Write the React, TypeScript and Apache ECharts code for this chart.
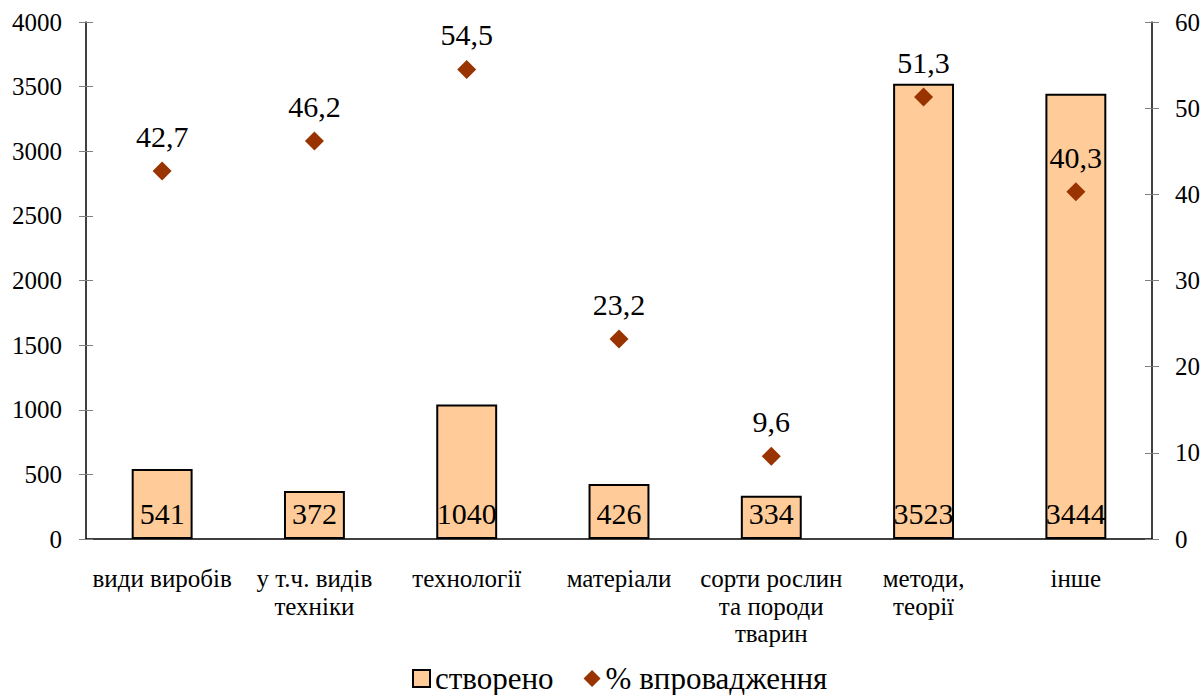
import React, { useEffect, useRef } from "react";
import * as echarts from "echarts";

const categories = [
  "види виробів",
  "у т.ч. видів\nтехніки",
  "технології",
  "матеріали",
  "сорти рослин\nта породи\nтварин",
  "методи,\nтеорії",
  "інше",
];
const created = [541, 372, 1040, 426, 334, 3523, 3444];
const implementedPct = [42.7, 46.2, 54.5, 23.2, 9.6, 51.3, 40.3];
const seriesNames = ["створено", "% впровадження"];

const FONT = "'Liberation Serif', 'Times New Roman', serif";

export default function App() {
  const ref = useRef<HTMLDivElement>(null);
  useEffect(() => {
    const chart = echarts.init(ref.current!, undefined, { renderer: "svg" });
    const axisText = { fontFamily: FONT, fontSize: 25, color: "#000" };
    const tickStyle = { color: "#808080", width: 1 };
    chart.setOption({
      animation: false,
      textStyle: { fontFamily: FONT, color: "#000" },
      grid: { left: 86, right: 52, top: 22, bottom: 156, containLabel: false },
      legend: {
        top: 663,
        left: 412,
        padding: 0,
        itemWidth: 17,
        itemHeight: 17,
        itemGap: 30,
        textStyle: { fontFamily: FONT, fontSize: 31, color: "#000" },
        data: [
          { name: seriesNames[0], icon: "rect" },
          { name: seriesNames[1], icon: "diamond" },
        ],
      },
      xAxis: [
        {
          type: "category",
          data: categories,
          axisLine: { lineStyle: { color: "#000", width: 1.5 } },
          axisTick: { length: 7, lineStyle: tickStyle },
          axisLabel: { ...axisText, fontSize: 25, margin: 26, lineHeight: 27.5, interval: 0 },
        },
        {
          type: "category",
          data: categories,
          position: "bottom",
          axisLine: { show: false },
          axisTick: { inside: true, length: 7, lineStyle: tickStyle },
          axisLabel: { show: false },
        },
      ],
      yAxis: [
        {
          type: "value",
          min: 0,
          max: 4000,
          interval: 500,
          splitLine: { show: false },
          axisLine: { show: true, lineStyle: { color: "#000", width: 1.5 } },
          axisTick: { show: true, length: 7, lineStyle: tickStyle },
          axisLabel: { ...axisText, margin: 24, formatter: (v: number) => String(v) },
        },
        {
          type: "value",
          min: 0,
          max: 60,
          interval: 10,
          position: "right",
          splitLine: { show: false },
          axisLine: { show: true, lineStyle: { color: "#000", width: 1.5 } },
          axisTick: { show: true, length: 7, lineStyle: tickStyle },
          axisLabel: { ...axisText, margin: 23, formatter: (v: number) => String(v) },
        },
        {
          type: "value",
          min: 0,
          max: 4000,
          interval: 500,
          position: "left",
          splitLine: { show: false },
          axisLine: { show: false },
          axisTick: { show: true, inside: true, length: 7, lineStyle: tickStyle },
          axisLabel: { show: false },
        },
        {
          type: "value",
          min: 0,
          max: 60,
          interval: 10,
          position: "right",
          splitLine: { show: false },
          axisLine: { show: false },
          axisTick: { show: true, inside: true, length: 7, lineStyle: tickStyle },
          axisLabel: { show: false },
        },
      ],
      series: [
        {
          name: seriesNames[0],
          type: "bar",
          xAxisIndex: 0,
          yAxisIndex: 0,
          data: created,
          barWidth: "40%",
          itemStyle: { color: "#FFCC99", borderColor: "#000", borderWidth: 2 },
          label: {
            show: true,
            position: "insideBottom",
            distance: 11,
            fontFamily: FONT,
            fontSize: 30,
            color: "#000",
          },
        },
        {
          name: seriesNames[1],
          type: "scatter",
          xAxisIndex: 0,
          yAxisIndex: 1,
          data: implementedPct,
          symbol: "diamond",
          symbolSize: 19,
          itemStyle: { color: "#993300", opacity: 1 },
          label: {
            show: true,
            position: "top",
            distance: 10,
            fontFamily: FONT,
            fontSize: 30,
            color: "#000",
            formatter: (p: any) => String(p.value).replace(".", ","),
          },
        },
      ],
    });
    return () => chart.dispose();
  }, []);
  return (
    <div
      ref={ref}
      style={{ position: "absolute", left: 0, top: 0, width: 1204, height: 695 }}
    />
  );
}
